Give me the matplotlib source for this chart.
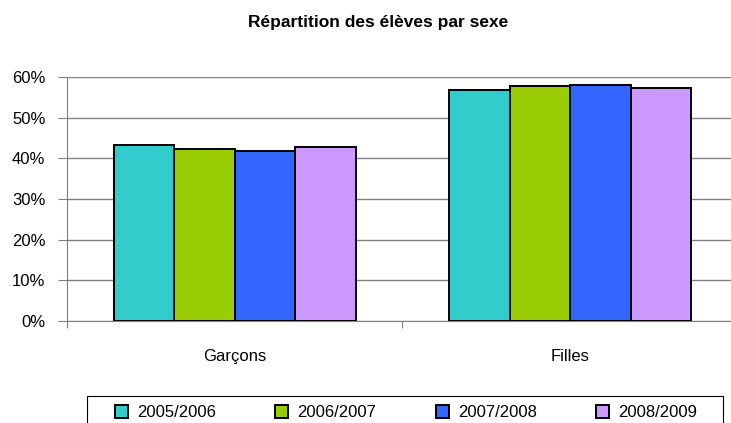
import matplotlib.pyplot as plt
import numpy as np
from matplotlib.patches import Rectangle
from matplotlib.ticker import PercentFormatter

plt.rcParams['font.family'] = ['Liberation Sans', 'DejaVu Sans']

categories = ['Garçons', 'Filles']
years = ['2005/2006', '2006/2007', '2007/2008', '2008/2009']
shares = [
    [0.432, 0.568],
    [0.422, 0.578],
    [0.419, 0.581],
    [0.428, 0.572],
]
colors = ['#33CCCC', '#99CC00', '#3366FF', '#CC99FF']

fig = plt.figure(figsize=(7.31, 4.23), dpi=100)
ax = fig.add_axes([67/731, 102/423, 671/731, 244/423])

x = np.arange(len(categories))
w = 0.18
for i in range(len(years)):
    ax.bar(x + (i - 1.5) * w, shares[i], w, color=colors[i], edgecolor='black',
           linewidth=1.4, label=years[i], zorder=3)

ax.set_xlim(-0.5, 1.5)
ax.set_ylim(0, 0.6)
ax.set_yticks(np.arange(0, 0.61, 0.1))
ax.yaxis.set_major_formatter(PercentFormatter(1.0, decimals=0))
ax.grid(axis='y', color='#808080', linewidth=1, zorder=0)

ax.set_xticks([-0.5, 0.5, 1.5])
ax.set_xticklabels([])
ax.set_xticks(x, minor=True)
ax.set_xticklabels(categories, minor=True)
ax.tick_params(axis='x', which='major', direction='out', length=5, color='#808080')
ax.tick_params(axis='x', which='minor', length=0, pad=20, labelsize=12)
ax.tick_params(axis='y', direction='out', length=6.5, color='#808080', labelsize=12, pad=9)

for s in ['top', 'right']:
    ax.spines[s].set_visible(False)
ax.spines['left'].set_color('#808080')
ax.spines['bottom'].set_color('#808080')

fig.text(378/731, 1 - 22/423, 'Répartition des élèves par sexe', ha='center', va='center',
         fontsize=12.5, fontweight='bold')

# legend box (cut off at the bottom like the original)
fig.patches.append(Rectangle((87/731, (423 - 430)/423), 636/731, 34/423,
                             transform=fig.transFigure, fill=False, edgecolor='black',
                             linewidth=0.8))
leg = fig.legend(loc='upper left', bbox_to_anchor=(115/731, 1 - 405/423), ncol=4,
                 fontsize=12, frameon=False, handlelength=0.78, handleheight=0.78,
                 handletextpad=0.55, columnspacing=3.56, borderpad=0, borderaxespad=0)

fig.savefig('out.png', dpi=100)
